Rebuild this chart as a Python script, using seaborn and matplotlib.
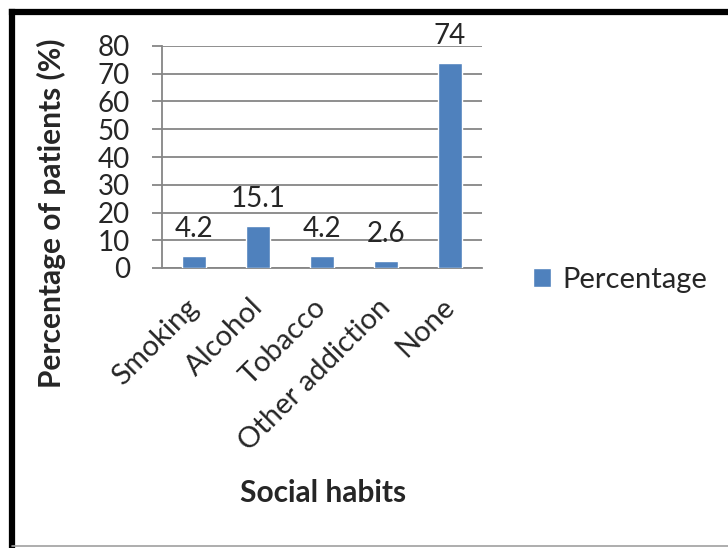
import matplotlib
matplotlib.use("Agg")
import matplotlib.pyplot as plt
import matplotlib.transforms as mtransforms
import seaborn as sns
import pandas as pd
from matplotlib.lines import Line2D

categories = ["Smoking", "Alcohol", "Tobacco", "Other addiction", "None"]
values = [4.2, 15.1, 4.2, 2.6, 74]
value_labels = ["4.2", "15.1", "4.2", "2.6", "74"]
series_name = "Percentage"
yticks = [0, 10, 20, 30, 40, 50, 60, 70, 80]

sns.set_theme(style="white")
plt.rcParams['font.family'] = ['Lato', 'DejaVu Sans']

df = pd.DataFrame({"habit": categories, "pct": values})

fig = plt.figure(figsize=(7.28, 5.48), dpi=100)
ax = fig.add_axes([162/728, 1-268/548, 320/728, 222/548])

sns.barplot(data=df, x="habit", y="pct", color="#4F81BD", saturation=1,
            width=0.39, label=series_name, ax=ax, zorder=3)

ax.set_ylim(0, 80)
ax.set_xlim(-0.5, 4.5)
ax.set_yticks(yticks)
ax.yaxis.grid(True, color="#868686", linewidth=1.3, zorder=0)
ax.set_axisbelow(True)
for s in ["top", "right"]:
    ax.spines[s].set_visible(False)
for s in ["left", "bottom"]:
    ax.spines[s].set_color("#868686")
    ax.spines[s].set_linewidth(1.3)
ax.tick_params(axis="y", which="major", direction="out", length=7, width=1.3,
               color="#868686", labelsize=20, pad=16, left=True)
ax.tick_params(axis="x", length=0, labelsize=21, pad=2)
offset = mtransforms.ScaledTranslation(-0.09, -0.23, fig.dpi_scale_trans)
for lbl in ax.get_xticklabels():
    lbl.set_rotation(45)
    lbl.set_ha("right")
    lbl.set_rotation_mode("anchor")
    lbl.set_transform(lbl.get_transform() + offset)

ax.bar_label(ax.containers[0], labels=value_labels, padding=10, fontsize=20)

ax.set_xlabel("")
ax.set_ylabel("")
fig.text(51/728, 1-213/548, "Percentage of patients (%)", fontsize=21.5, fontweight="bold",
         rotation=90, ha="center", va="center")
fig.text(323/728, 1-493/548, "Social habits", fontsize=21.5, fontweight="bold",
         ha="center", va="center")

ax.legend(loc="center left", bbox_to_anchor=(533/728, 1-280/548),
          bbox_transform=fig.transFigure, frameon=False, fontsize=21,
          handlelength=0.62, handleheight=0.62, handletextpad=0.4, borderpad=0,
          borderaxespad=0)

# border frame
fig.add_artist(Line2D([12/728, 12/728], [1-12/548, 1-545/548], transform=fig.transFigure,
                      color="black", linewidth=4.5, solid_capstyle="projecting"))
fig.add_artist(Line2D([12/728, 1.0], [1-12/548, 1-12/548], transform=fig.transFigure,
                      color="black", linewidth=4.5, solid_capstyle="projecting"))
fig.add_artist(Line2D([12/728, 1.0], [1-545.5/548, 1-545.5/548], transform=fig.transFigure,
                      color="#A0A0A0", linewidth=1.2))

fig.savefig("out.png", dpi=100)
